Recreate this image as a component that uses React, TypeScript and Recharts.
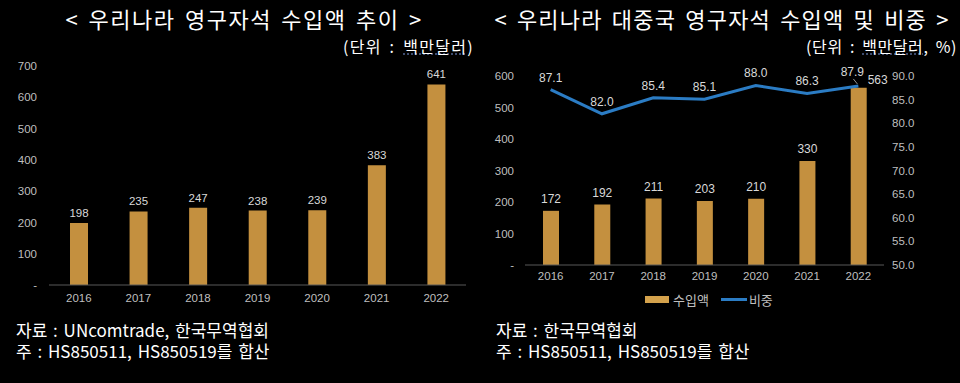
import React from 'react';
import { BarChart, ComposedChart, Bar, Line, XAxis, YAxis, LabelList, Legend } from 'recharts';

const years = ['2016', '2017', '2018', '2019', '2020', '2021', '2022'];
const totalImports = [198, 235, 247, 238, 239, 383, 641];
const chinaImports = [172, 192, 211, 203, 210, 330, 563];
const chinaShare = [87.1, 82.0, 85.4, 85.1, 88.0, 86.3, 87.9];
const leftTicks = [0, 100, 200, 300, 400, 500, 600, 700];
const rightBarTicks = [0, 100, 200, 300, 400, 500, 600];
const shareTicks = [50, 55, 60, 65, 70, 75, 80, 85, 90];

const totalData = years.map((year, i) => ({ year, value: totalImports[i] }));
const chinaData = years.map((year, i) => ({ year, amount: chinaImports[i], share: chinaShare[i] }));

const BAR = '#C4903F';
const LINE = '#2B7CC4';
const TICK = '#bfbfbf';
const LABEL = '#d9d9d9';
const numFont = 'Liberation Sans, Arial, sans-serif';
const tickFont = { fill: TICK, fontSize: 11.5, fontFamily: numFont };
const krFont = '"Noto Sans CJK KR", sans-serif';

const leftNote = '자료 : UNcomtrade, 한국무역협회\n주 : HS850511, HS850519를 합산';
const rightNote = '자료 : 한국무역협회\n주 : HS850511, HS850519를 합산';

const dash = (v: number) => (v === 0 ? '-' : String(v));

const AmountLabel = (props: any) => {
    const { x, y, width, value, index } = props;
    const cx = x + width / 2;
    if (index === 6) {
        return <text x={cx + 19} y={y - 4} fill={LABEL} fontSize={12} textAnchor="middle" fontFamily={numFont}>{value}</text>;
    }
    return <text x={cx} y={y - 8} fill={LABEL} fontSize={12} textAnchor="middle" fontFamily={numFont}>{value}</text>;
};

const ShareLabel = (props: any) => {
    const { x, y, value, index } = props;
    const txt = Number(value).toFixed(1);
    if (index === 6) {
        return (
            <g>
                <line x1={x - 5} y1={y - 7} x2={x - 1} y2={y - 2} stroke="#999" strokeWidth={1} />
                <text x={x - 6} y={y - 10} fill={LABEL} fontSize={12} textAnchor="middle" fontFamily={numFont}>{txt}</text>
            </g>
        );
    }
    return <text x={x} y={y - 8} fill={LABEL} fontSize={12} textAnchor="middle" fontFamily={numFont}>{txt}</text>;
};

const LegendContent = () => (
    <div style={{ display: 'flex', alignItems: 'center', fontFamily: krFont, fontSize: 13, color: '#bfbfbf', whiteSpace: 'nowrap' }}>
        <span style={{ display: 'inline-block', width: 24, height: 7, background: '#D4A24C', marginRight: 4 }} />
        <span style={{ marginRight: 12 }}>수입액</span>
        <span style={{ display: 'inline-block', width: 26, height: 3, background: LINE, marginRight: 2 }} />
        <span>비중</span>
    </div>
);

const underline: React.CSSProperties = { textDecoration: 'underline dotted #4d5f8a' };
const titleStyle: React.CSSProperties = { position: 'absolute', top: 4, textAlign: 'center', fontSize: 22, lineHeight: '28px', letterSpacing: 1.5, wordSpacing: 3, whiteSpace: 'nowrap' };
const unitStyle: React.CSSProperties = { position: 'absolute', top: 36, fontSize: 16, lineHeight: '20px', letterSpacing: 1.3, wordSpacing: 3, whiteSpace: 'nowrap' };
const noteStyle: React.CSSProperties = { position: 'absolute', top: 320, fontSize: 17, lineHeight: '20.5px', wordSpacing: 2, whiteSpace: 'pre' };

const App: React.FC = () => {
    return (
        <div style={{ position: 'fixed', left: 0, top: 0, width: 960, height: 383, background: '#000', overflow: 'hidden', fontFamily: krFont, color: '#fff' }}>
            <div style={{ ...titleStyle, left: 0, width: 488 }}>
                &lt; 우리나라 영구자석 수입액 추이 &gt;
            </div>
            <div style={{ ...unitStyle, right: 960 - 474 }}>
                (단위 : <span style={underline}>백만달러</span>)
            </div>
            <div style={{ ...titleStyle, left: 480, width: 484, letterSpacing: 1.2 }}>
                &lt; 우리나라 대중국 영구자석 수입액 및 비중 &gt;
            </div>
            <div style={{ ...unitStyle, right: 3, letterSpacing: 0.6 }}>
                (단위 : <span style={underline}>백만달러</span>, %)
            </div>

            <div style={{ position: 'absolute', left: 0, top: 0 }}>
                <BarChart width={480} height={310} data={totalData} margin={{ top: 66, right: 14, bottom: 0, left: 0 }}>
                    <XAxis dataKey="year" height={25} tick={tickFont} tickLine={false} tickSize={0} tickMargin={9} axisLine={{ stroke: '#595959' }} />
                    <YAxis width={49} domain={[0, 700]} ticks={leftTicks} tickFormatter={dash} tick={tickFont} tickLine={false} tickSize={0} tickMargin={12} axisLine={false} />
                    <Bar dataKey="value" fill={BAR} barSize={18} isAnimationActive={false}>
                        <LabelList dataKey="value" position="top" offset={6} fill={LABEL} fontSize={11.5} fontFamily={numFont} />
                    </Bar>
                </BarChart>
            </div>

            <div style={{ position: 'absolute', left: 480, top: 0 }}>
                <ComposedChart width={480} height={310} data={chinaData} margin={{ top: 76, right: 16, bottom: 0, left: 0 }}>
                    <XAxis dataKey="year" height={45} tick={tickFont} tickLine={false} tickSize={0} tickMargin={7} axisLine={{ stroke: '#595959' }} />
                    <YAxis yAxisId="left" width={45} domain={[0, 600]} ticks={rightBarTicks} tickFormatter={dash} tick={tickFont} tickLine={false} tickSize={0} tickMargin={11} axisLine={false} />
                    <YAxis yAxisId="right" orientation="right" width={60} domain={[50, 90]} ticks={shareTicks} tickFormatter={(v: number) => v.toFixed(1)} tick={{ ...tickFont, textAnchor: 'start' }} tickLine={false} tickSize={0} tickMargin={8} axisLine={false} />
                    <Bar yAxisId="left" dataKey="amount" fill={BAR} barSize={16} isAnimationActive={false}>
                        <LabelList dataKey="amount" content={AmountLabel} />
                    </Bar>
                    <Line yAxisId="right" dataKey="share" type="linear" stroke={LINE} strokeWidth={3} dot={false} activeDot={false} isAnimationActive={false}>
                        <LabelList dataKey="share" content={ShareLabel} />
                    </Line>
                    <Legend verticalAlign="middle" align="center" content={LegendContent} wrapperStyle={{ position: 'absolute', left: 165, top: 290, width: 'auto' }} />
                </ComposedChart>
            </div>

            <div style={{ ...noteStyle, left: 16 }}>{leftNote}</div>
            <div style={{ ...noteStyle, left: 496 }}>{rightNote}</div>
        </div>
    );
};

export default App;
